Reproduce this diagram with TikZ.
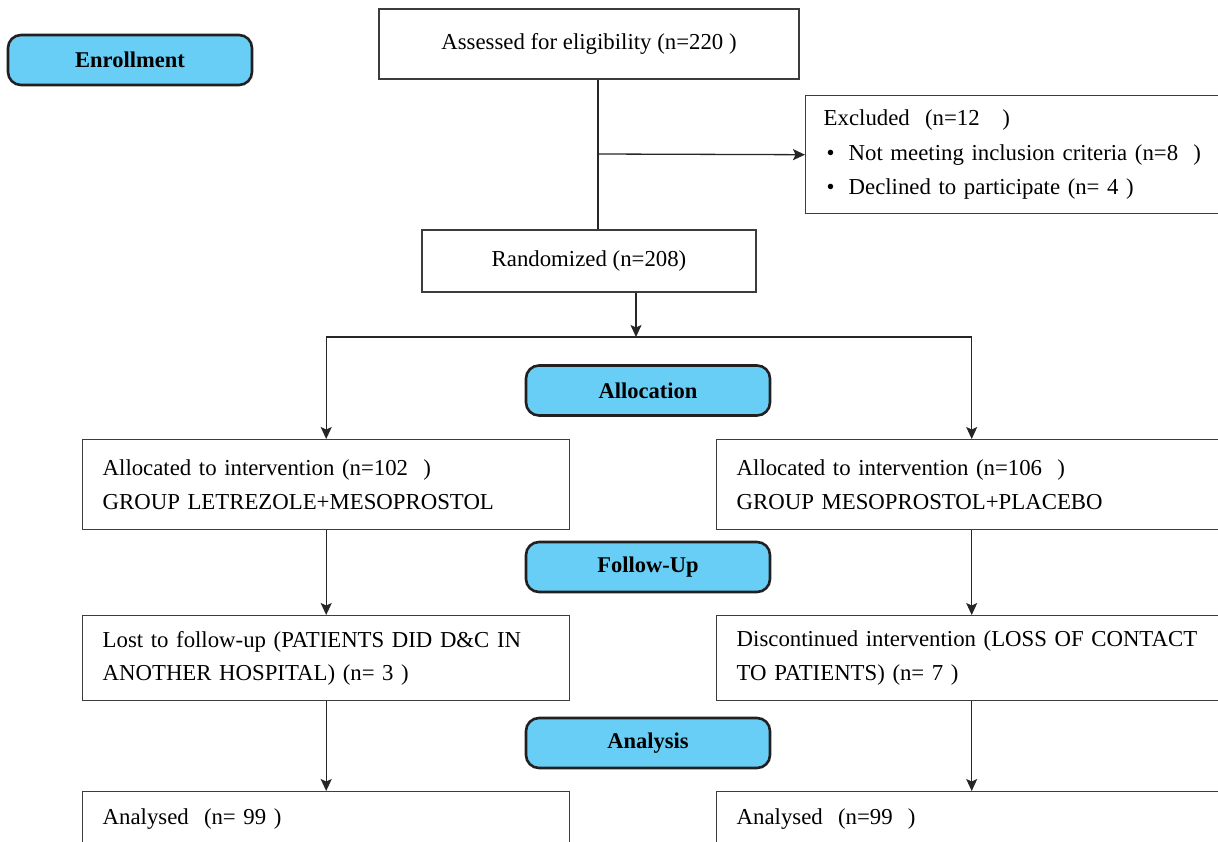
\documentclass[tikz,border=0pt]{standalone}
\usepackage{fontspec}
\setmainfont{Liberation Serif}
\usepackage{tikz}
\usetikzlibrary{arrows.meta,positioning}

\definecolor{tagblue}{RGB}{104,206,245}
\definecolor{tagline}{RGB}{35,31,32}
\definecolor{boxline}{RGB}{60,60,60}

\begin{document}
\begin{tikzpicture}
    % 坐标单位: 1pt 对应参考图中的 1 像素, y 轴向下
    [x=1pt, y=-1pt,
    BoxNode/.style={draw=boxline, line width=1.4pt, fill=white, rectangle, inner sep=0pt,
        font=\fontsize{22.8}{33.5}\selectfont},
    TextBox/.style={BoxNode, anchor=north west, align=left, inner xsep=20pt},
    TagNode/.style={draw=tagline, fill=tagblue, line width=2.6pt, rounded corners=13pt,
        minimum width=244pt, minimum height=50pt, font=\fontsize{22.5}{26}\selectfont\bfseries},
    Flow/.style={line width=1.3pt, draw=black!85, -{Stealth[length=12pt,width=11pt,inset=2.5pt]}},
    Flat/.style={line width=1.3pt, draw=black!85}]

    % 画布大小 (裁掉超出边界的部分)
    \useasboundingbox (0,0) rectangle (1218,841);
    \clip (0,0) rectangle (1218,841);

    % 阶段标签
    \node[TagNode] (enroll) at (130,60) {Enrollment};
    \node[TagNode] (allocTag) at (648,390.5) {Allocation};
    \node[TagNode] (followTag) at (648,567) {Follow-Up};
    \node[TagNode] (analysisTag) at (648,743) {Analysis};

    % 入组与随机
    \node[BoxNode, minimum width=420pt, minimum height=70pt] (assess) at (589,44)
        {Assessed for eligibility (n=220~)};
    \node[BoxNode, minimum width=334pt, minimum height=62pt] (rand) at (589,261)
        {Randomized (n=208)};
    \node[BoxNode, anchor=north west, align=left, inner xsep=18pt,
        minimum width=430pt, minimum height=118pt, text width=394pt,
        font=\fontsize{22.8}{34.5}\selectfont] (excl) at (805,95)
        {Excluded~~(n=12~~~)\\
        \hspace*{3pt}\textbullet\hspace{14pt}Not meeting inclusion criteria (n=8~~)\\
        \hspace*{3pt}\textbullet\hspace{14pt}Declined to participate (n=~4~)};

    % 两组的方框
    \node[TextBox, minimum width=487pt, minimum height=90pt, text width=447pt] (allocL) at (82,439)
        {Allocated to intervention (n=102~~)\\GROUP LETREZOLE+MESOPROSTOL};
    \node[TextBox, minimum width=510pt, minimum height=90pt, text width=470pt] (allocR) at (716,439)
        {Allocated to intervention (n=106~~)\\GROUP MESOPROSTOL+PLACEBO};
    \node[TextBox, minimum width=487pt, minimum height=85pt, text width=447pt] (lostL) at (82,615)
        {Lost to follow-up (PATIENTS DID D\&C IN\\ANOTHER HOSPITAL) (n=~3~)};
    \node[TextBox, minimum width=510pt, minimum height=85pt, text width=470pt] (lostR) at (716,615)
        {Discontinued intervention (LOSS OF CONTACT\\TO PATIENTS) (n=~7~)};
    \node[TextBox, minimum width=487pt, minimum height=54pt, text width=447pt] (anaL) at (82,791)
        {Analysed~~(n=~99~)};
    \node[TextBox, minimum width=510pt, minimum height=54pt, text width=470pt] (anaR) at (716,791)
        {Analysed~~(n=99~~)};

    % 连线
    \coordinate (branch) at (598,154);
    \coordinate (split) at (636,337);
    \draw[Flat] (assess.south -| branch) -- (rand.north -| branch);
    \draw[Flow] (branch) -- (excl.west);
    \draw[Flow] (rand.south -| split) -- (split);
    \draw[Flow] (split) -| (allocL.north);
    \draw[Flow] (split) -| (allocR.north);
    \draw[Flow] (allocL.south) -- (lostL.north);
    \draw[Flow] (allocR.south) -- (lostR.north);
    \draw[Flow] (lostL.south) -- (anaL.north);
    \draw[Flow] (lostR.south) -- (anaR.north);
\end{tikzpicture}
\end{document}
